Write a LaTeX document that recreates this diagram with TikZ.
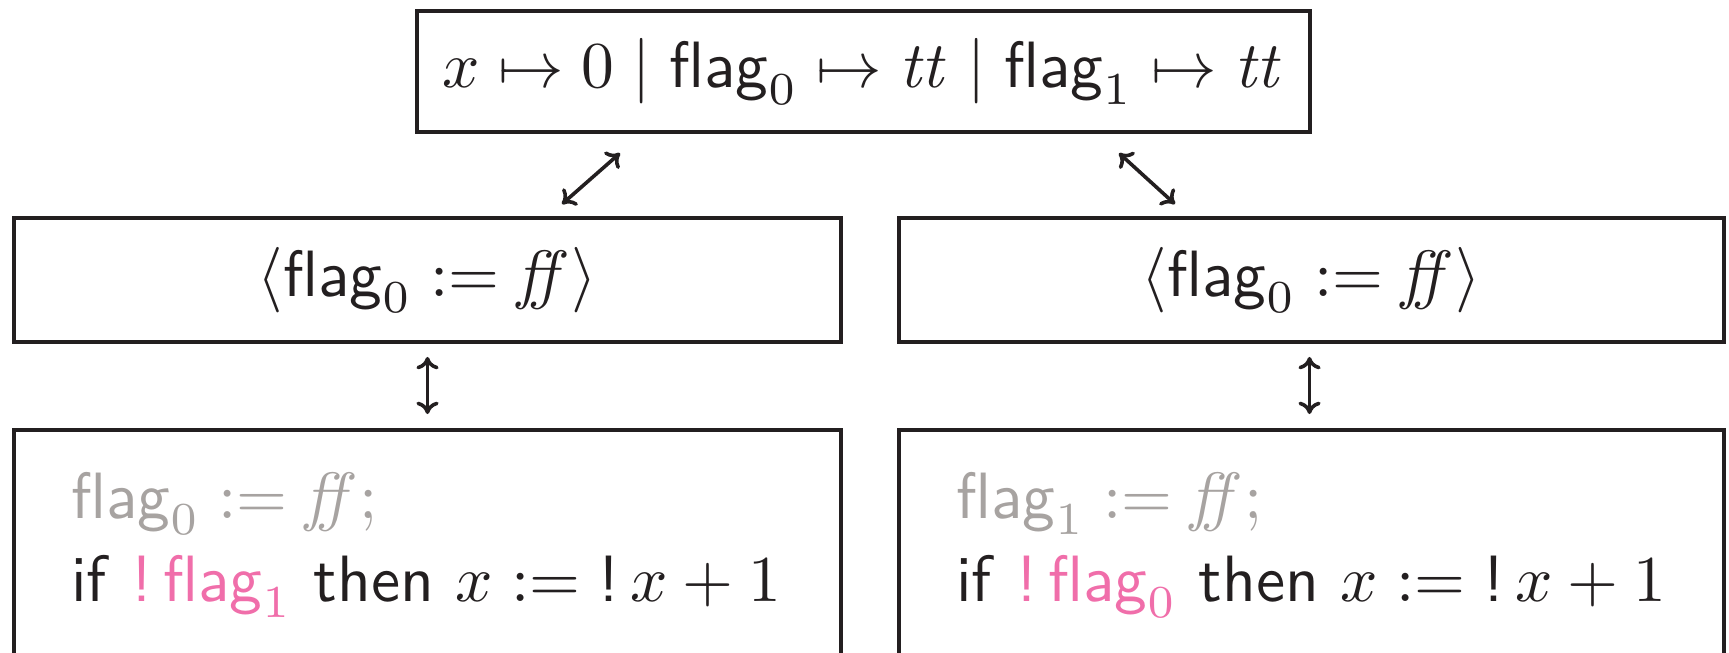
\documentclass[tikz,border=0pt]{standalone}
\usepackage{xcolor}
\usepackage{tikz}
\usetikzlibrary{positioning,calc,arrows.meta}
\definecolor{stateInk}{HTML}{231F20}
\definecolor{doneGray}{HTML}{A7A3A1}
\definecolor{testPink}{HTML}{F06EAA}
\newcommand{\flagvar}[1]{\textsf{flag}_{#1}}
\newcommand{\bang}{\textsf{!}\,}

\begin{document}
\begin{tikzpicture}[x=0.1527pt, y=0.1527pt,
    every node/.style={text=stateInk},
    cell/.style={draw=stateInk, line width=0.62pt, inner sep=0pt},
    link/.style={arrows={To[length=1.9pt,width=3.4pt]-To[length=1.9pt,width=3.4pt]}, stateInk, line width=0.55pt}]
  \clip (0,0) rectangle (1729,652);
  % shared state
  \node[cell, minimum width=136.4pt, minimum height=18.5pt] (heap) at (863.5,580.5)
    {$x \mapsto 0 \mid \flagvar{0} \mapsto \mathit{tt} \mid \flagvar{1} \mapsto \mathit{tt}$};
  % atomic steps
  \node[cell, minimum width=126.3pt, minimum height=18.9pt] (stepL) at (427.5,372)
    {$\langle \flagvar{0} := \mathit{ff} \rangle$};
  \node[cell, minimum width=126.0pt, minimum height=18.9pt] (stepR) at (1311.5,372)
    {$\langle \flagvar{0} := \mathit{ff} \rangle$};
  % threads (cut off at the bottom)
  \node[cell, minimum width=126.3pt, minimum height=45.8pt, anchor=north] (threadL) at (427.5,224) {};
  \node[cell, minimum width=126.0pt, minimum height=45.8pt, anchor=north] (threadR) at (1311.5,224) {};
  \node[anchor=base west, inner sep=0pt, text=doneGray] (lineL1) at ([shift={(58,-90)}]threadL.north west)
    {$\flagvar{0} := \mathit{ff}$;};
  \node[anchor=base west, inner sep=0pt] (lineL2) at ([shift={(0,-83)}]lineL1.base west)
    {\textsf{if} \textcolor{testPink}{$\bang\flagvar{1}$} \textsf{then} $x := \bang x + 1$};
  \node[anchor=base west, inner sep=0pt, text=doneGray] (lineR1) at ([shift={(58,-90)}]threadR.north west)
    {$\flagvar{1} := \mathit{ff}$;};
  \node[anchor=base west, inner sep=0pt] (lineR2) at ([shift={(0,-83)}]lineR1.base west)
    {\textsf{if} \textcolor{testPink}{$\bang\flagvar{0}$} \textsf{then} $x := \bang x + 1$};
  % connectors
  \draw[link] ([shift={(-243.5,-19)}]heap.south) -- ([shift={(134.5,12)}]stepL.north);
  \draw[link] ([shift={(255.5,-19)}]heap.south) -- ([shift={(-136.5,12)}]stepR.north);
  \draw[link] ([shift={(0,-13)}]stepL.south) -- ([shift={(0,14)}]threadL.north);
  \draw[link] ([shift={(-2,-13)}]stepR.south) -- ([shift={(-2,14)}]threadR.north);
\end{tikzpicture}
\end{document}
